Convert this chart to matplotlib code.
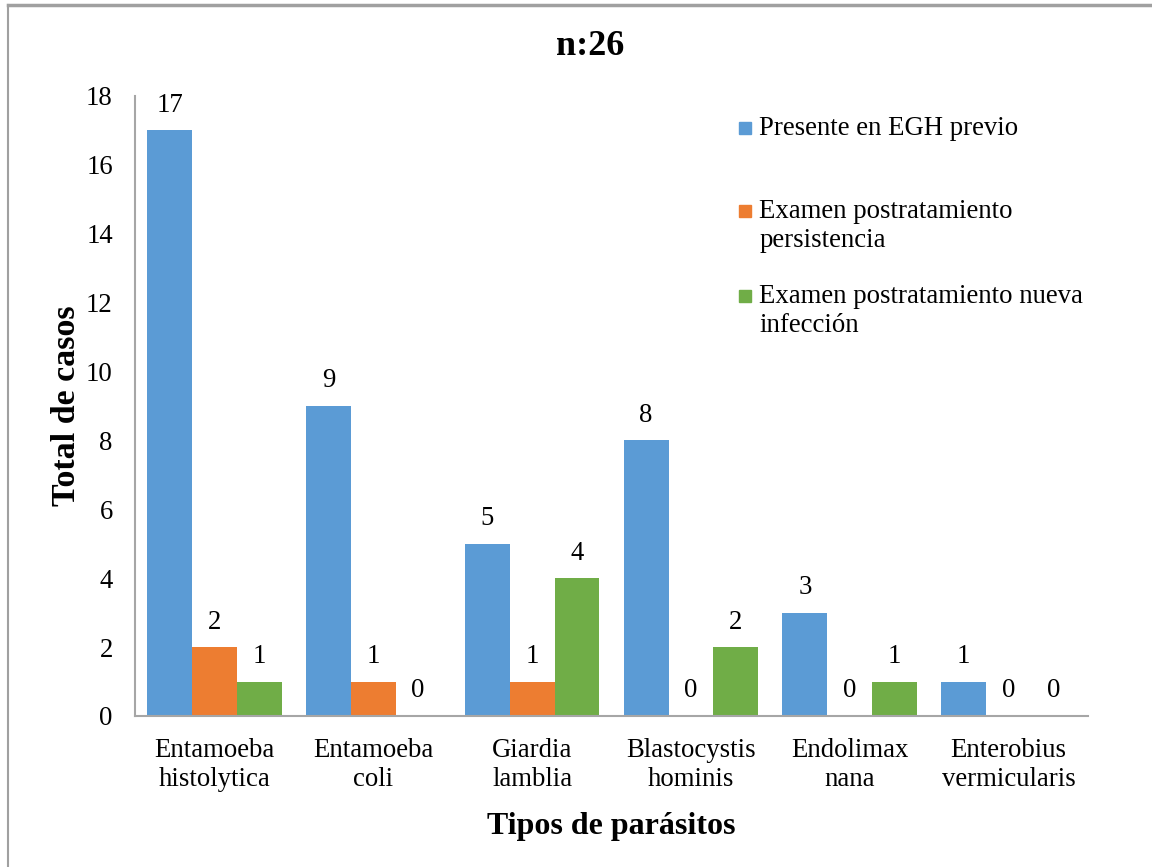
import matplotlib.pyplot as plt
from matplotlib.lines import Line2D
from matplotlib.patches import Rectangle
import numpy as np

plt.rcParams["font.family"] = ["Liberation Serif", "DejaVu Serif"]

categorias = ["Entamoeba\nhistolytica", "Entamoeba\ncoli", "Giardia\nlamblia",
              "Blastocystis\nhominis", "Endolimax\nnana", "Enterobius\nvermicularis"]
series = ["Presente en EGH previo",
          "Examen postratamiento\npersistencia",
          "Examen postratamiento nueva\ninfección"]
egh_previo = [17, 9, 5, 8, 3, 1]
persistencia = [2, 1, 1, 0, 0, 0]
nueva_infeccion = [1, 0, 4, 2, 1, 0]
colores = ["#5B9BD5", "#ED7D31", "#70AD47"]

fig = plt.figure(figsize=(11.52, 8.67), dpi=100)
ax = fig.add_axes([0.1172, 0.1742, 0.8273, 0.7151])

x = np.arange(len(categorias))
ancho = 0.2825
for i, valores in enumerate([egh_previo, persistencia, nueva_infeccion]):
    pos = x + (i - 1) * ancho
    ax.bar(pos, valores, width=ancho, color=colores[i])
    for xp, v in zip(pos, valores):
        ax.annotate(str(v), (xp, v), xytext=(0, 9), textcoords="offset points",
                    ha="center", va="bottom", fontsize=19.3)

ax.set_xlim(-0.5, len(categorias) - 0.5)
ax.set_ylim(0, 18)
ax.set_yticks(range(0, 19, 2))
ax.set_xticks(x)
ax.set_xticklabels(categorias, fontsize=19.3, linespacing=1.22)
ax.tick_params(axis="y", labelsize=19.3, length=0, pad=16)
ax.tick_params(axis="x", length=0, pad=16)

for lado in ["top", "right"]:
    ax.spines[lado].set_visible(False)
for lado in ["left", "bottom"]:
    ax.spines[lado].set_color("#a6a6a6")
    ax.spines[lado].set_linewidth(1.5)

ax.set_xlabel("Tipos de parásitos", fontsize=23, fontweight="bold", labelpad=14)
ax.set_ylabel("Total de casos", fontsize=24.5, fontweight="bold", labelpad=3)
fig.text(0.512, 0.946, "n:26", ha="center", va="center", fontsize=26, fontweight="bold")

# leyenda manual, cuadro alineado con la primera línea
ley_y = [0.853, 0.757, 0.659]
for nombre, color, yy in zip(series, colores, ley_y):
    fig.add_artist(Rectangle((0.6415, yy - 0.0075), 0.0105, 0.014,
                             transform=fig.transFigure, color=color))
    fig.text(0.659, yy + 0.0135, nombre, ha="left", va="top", fontsize=19.3,
             linespacing=1.22)

# marco exterior
fig.add_artist(Line2D([0.007, 1.0], [0.9945, 0.9945], color="#a0a0a0", lw=2.5))
fig.add_artist(Line2D([0.007, 0.007], [0.0, 0.9945], color="#a0a0a0", lw=1.5))

fig.savefig("out.png", dpi=100)
